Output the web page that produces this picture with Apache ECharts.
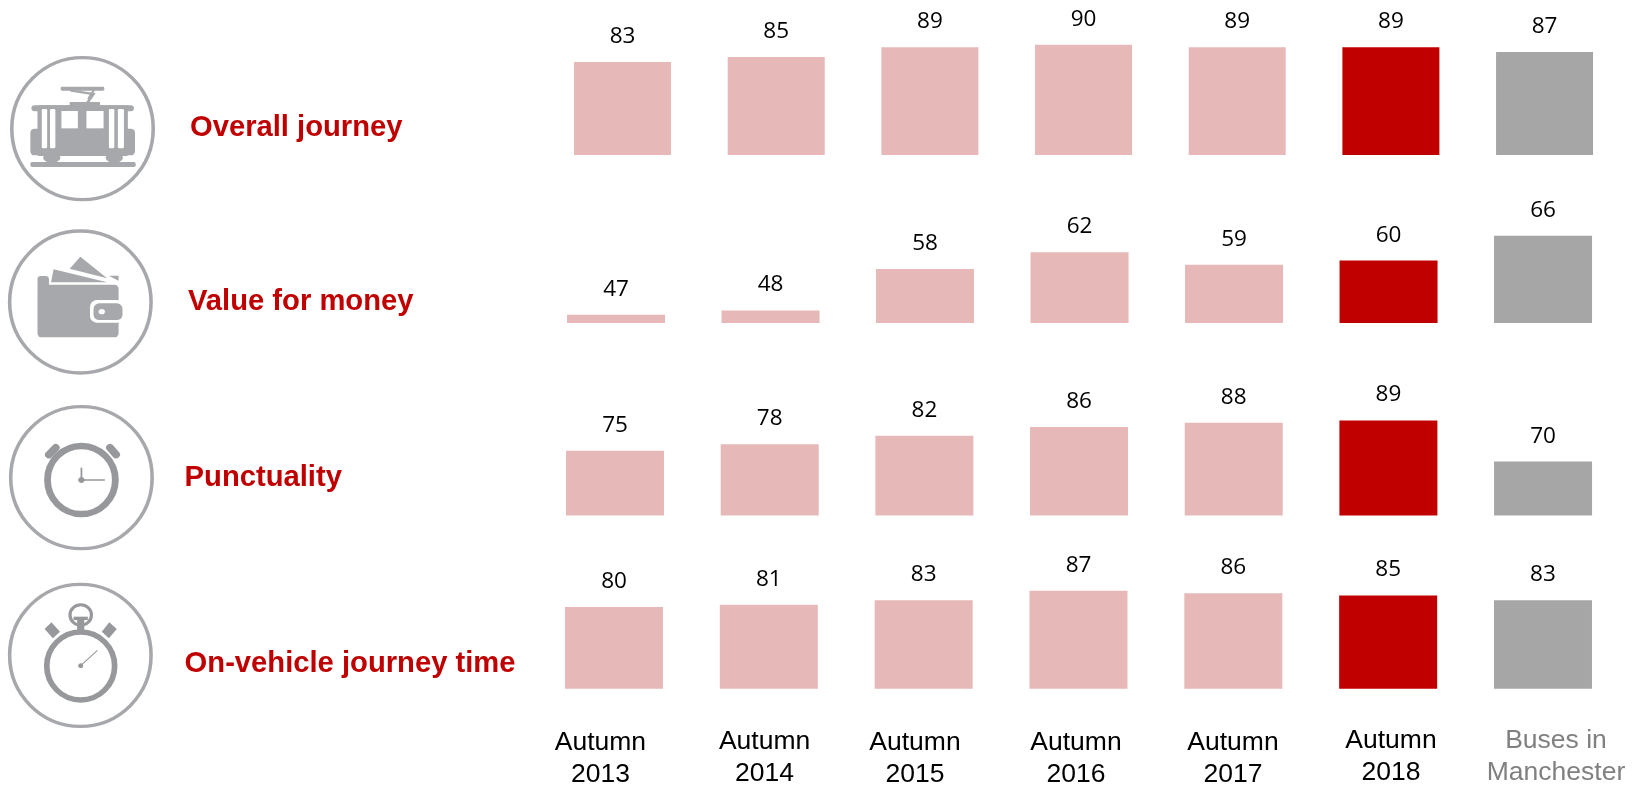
<!DOCTYPE html>
<html>
<head>
<meta charset="utf-8">
<style>html,body{margin:0;padding:0;background:#fff}#c{width:1643px;height:785px}</style>
<script src="https://cdn.jsdelivr.net/npm/echarts@6/dist/echarts.min.js"></script>
</head>
<body>
<div id="c"></div>
<script>
// ---- data ----
var categories = ['Autumn\n2013','Autumn\n2014','Autumn\n2015','Autumn\n2016','Autumn\n2017','Autumn\n2018','Buses in\nManchester'];
var rowTitles = ['Overall journey','Value for money','Punctuality','On-vehicle journey time'];
var overallJourney = [83,85,89,90,89,89,87];
var valueForMoney = [47,48,58,62,59,60,66];
var punctuality = [75,78,82,86,88,89,70];
var journeyTime = [80,81,83,87,86,85,83];
var rowValues = [overallJourney,valueForMoney,punctuality,journeyTime];

// ---- layout & styles ----
var PINK='#E6B8B7', RED='#C00000', GREY='#A6A6A6', ICON='#A6A8AB', ICON2='#97989B';
var barColors=[PINK,PINK,PINK,PINK,PINK,RED,GREY];
var rowLayout=[
  {left:545.7,width:1075.7,top:20.25,bottom:155,max:100,bar:97,labelX:190,labelBase:138},
  {left:538.8,width:1081.5,top:177.4,bottom:323,max:80,bar:98,labelX:188,labelBase:312.3},
  {left:537.7,width:1082.7,top:396.8,bottom:515.6,max:100,bar:98,labelX:184.6,labelBase:488},
  {left:536.6,width:1083.8,top:560.5,bottom:688.7,max:100,bar:98,labelX:184.6,labelBase:674}
];
var catLabelPos=[[600.4,759],[764.6,757.5],[915,759],[1076,759],[1233,759],[1391,757],[1556,757]];
var catColors=['#000','#000','#000','#000','#000','#000','#808080'];

var grids=[],xAxes=[],yAxes=[],series=[],graphics=[];
rowLayout.forEach(function(r,i){
  grids.push({left:r.left,width:r.width,top:r.top,height:r.bottom-r.top,containLabel:false});
  xAxes.push({type:'category',gridIndex:i,data:categories,show:false});
  yAxes.push({type:'value',gridIndex:i,min:45,max:r.max,show:false});
  series.push({
    type:'bar',xAxisIndex:i,yAxisIndex:i,barWidth:r.bar,
    data:rowValues[i].map(function(v,j){return {value:v,itemStyle:{color:barColors[j]}};}),
    label:{show:true,position:'top',distance:14,color:'#000',fontFamily:'Open Sans',fontSize:22.5},
    silent:true
  });
  graphics.push({type:'text',x:r.labelX,y:r.labelBase-10,silent:true,style:{
    text:rowTitles[i],fill:RED,font:'bold 29.2px "Liberation Sans"',textAlign:'left',textVerticalAlign:'middle'}});
});
categories.forEach(function(c,i){
  graphics.push({type:'text',x:catLabelPos[i][0],y:catLabelPos[i][1],silent:true,style:{
    text:c,fill:catColors[i],font:'26.5px "Liberation Sans"',lineHeight:32.3,textAlign:'center',textVerticalAlign:'middle'}});
});

// ---- icons ----
function R(x,y,w,h,r,fill){return {type:'rect',shape:{x:x,y:y,width:w,height:h,r:r||0},style:{fill:fill||ICON}};}
function P(pts,fill){return {type:'polygon',shape:{points:pts},style:{fill:fill||ICON}};}
function L(pts,w,col){return {type:'polyline',shape:{points:pts},style:{stroke:col||ICON,lineWidth:w,fill:'none',lineCap:'round'}};}
function E(cx,cy,rx,ry,fill,stroke,lw){return {type:'ellipse',shape:{cx:cx,cy:cy,rx:rx,ry:ry},style:{fill:fill||'none',stroke:stroke||'none',lineWidth:lw||0}};}
var W='#fff';
var tramIcon=[
  E(231,296,198,213,'#fff',ICON,10),
  R(170,170,122,12,4),
  L([[200,182],[262,192],[242,222]],7),
  L([[262,182],[248,205]],6),
  R(195,216,85,14,2),
  R(88,226,287,18,10),
  R(105,226,253,152,4),
  R(85,296,293,80,12),
  R(172,243,46,52,0,W),R(242,243,48,52,0,W),
  R(117,237,15,118,4,W),R(140,237,15,118,4,W),R(305,237,15,118,4,W),R(330,237,17,118,4,W),
  E(145,383,24,15,ICON),E(320,383,24,15,ICON),
  R(85,396,295,15,5)
];
var walletIcon=[
  E(225,816,198,213,'#fff',ICON,10),
  P([[225,680],[300,745],[195,716]]),
  P([[150,718],[300,757],[143,757]]),
  P([[305,737],[332,737],[332,752]]),
  R(105,738,32,40,10),
  R(105,764,227,158,12),
  R(252,810,96,68,20,W),
  R(262,820,81,50,16),
  E(285,845,9,8,W)
];
var clockIcon=[
  E(228,263,198,213,'#fff',ICON,10),
  E(228,270,95,102,'none',ICON2,19),
  L([[137,194],[156,173]],22,ICON2),
  L([[308,173],[325,194]],22,ICON2),
  L([[228,235],[228,270],[292,270]],5,ICON2),
  E(228,270,9,9,ICON2)
];
var watchIcon=[
  E(225,796,198,213,'#fff',ICON,10),
  E(226,828,95,102,'none',ICON2,16),
  E(226,675,30,31,'none',ICON2,9),
  R(206,680,40,10,0,ICON2),
  R(216,688,20,36,0,ICON2),
  P([[144,697],[168,725],[148,745],[125,717]],ICON2),
  P([[306,697],[327,717],[305,745],[285,725]],ICON2),
  L([[226,827],[272,782]],3,ICON2),
  E(226,827,7,7,ICON2)
];
function iconGroup(dy,children){return {type:'group',x:0,y:dy,scaleX:1/2.8,scaleY:1/3,silent:true,children:children};}
graphics.push(iconGroup(30,tramIcon),iconGroup(30,walletIcon),iconGroup(390,clockIcon),iconGroup(390,watchIcon));

var chart=echarts.init(document.getElementById('c'),null,{renderer:'canvas',width:1643,height:785});
chart.setOption({
  animation:false,backgroundColor:'#fff',tooltip:{show:false},legend:{show:false},
  grid:grids,xAxis:xAxes,yAxis:yAxes,series:series,graphic:{elements:graphics}
});
</script>
</body>
</html>
